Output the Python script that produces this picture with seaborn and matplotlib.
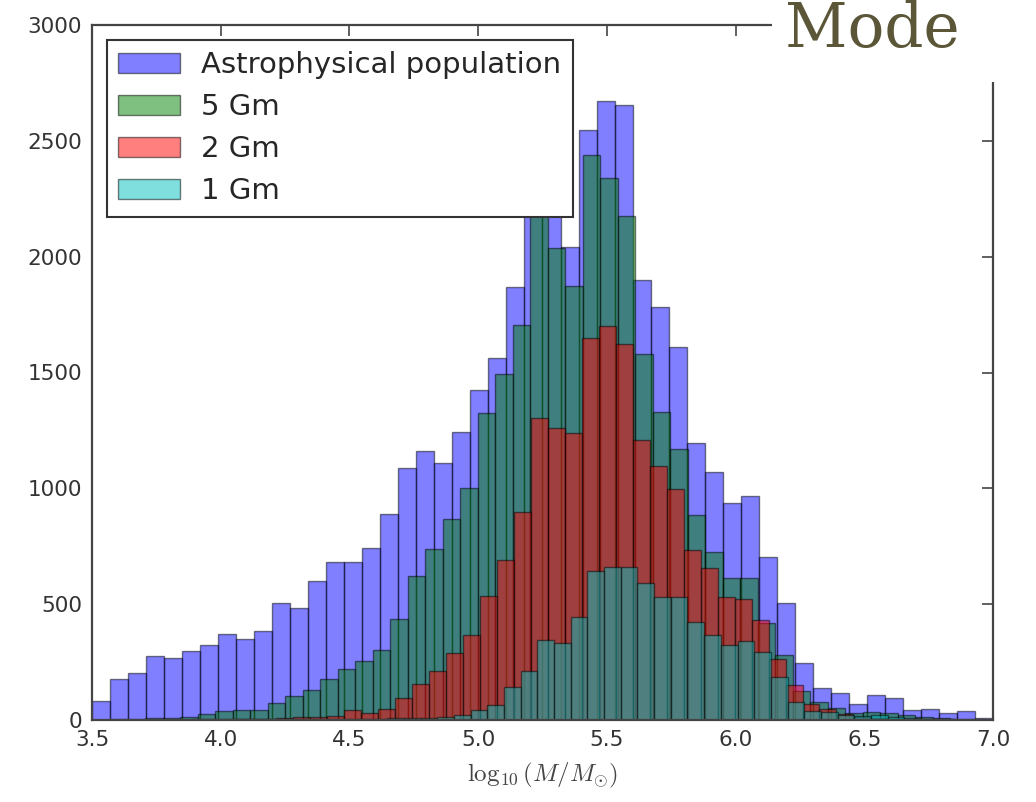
import numpy as np
import pandas as pd
import matplotlib.pyplot as plt
import seaborn as sns
from matplotlib.colors import to_rgba
from matplotlib.patches import Patch, Rectangle

# Counts per bin. Each population has 50 bins
# spread over its own min..max range (plain plt.hist(bins=50) behaviour).
astro_counts = [80, 176, 202, 278, 266, 298, 324, 371, 348, 384,
                506, 485, 601, 683, 683, 741, 889, 1087, 1161, 1111,
                1245, 1425, 1564, 1868, 2350, 2250, 2043, 2547, 2670, 2655,
                1900, 1782, 1612, 1195, 1072, 935, 967, 705, 504, 245,
                137, 118, 69, 108, 94, 43, 46, 32, 39, 8]
gm5_counts = [5, 6, 8, 8, 14, 25, 40, 45, 45, 75,
              105, 130, 176, 220, 255, 302, 436, 623, 737, 866,
              1000, 1324, 1494, 1705, 2200, 2036, 1874, 2439, 2339, 2176,
              1580, 1328, 1169, 885, 727, 612, 612, 420, 281, 127,
              79, 50, 32, 36, 32, 22, 14, 7, 5, 3]
gm2_counts = [1, 1, 2, 2, 3, 3, 4, 5, 6, 7,
              12, 14, 17, 43, 29, 46, 94, 155, 213, 288,
              367, 535, 691, 899, 1302, 1259, 1237, 1648, 1701, 1623,
              1210, 1097, 996, 734, 655, 532, 521, 432, 262, 151,
              70, 46, 26, 12, 8, 5, 5, 4, 3, 2]
gm1_counts = [0, 1, 1, 1, 2, 2, 2, 3, 3, 3,
              4, 4, 5, 5, 6, 6, 7, 8, 10, 13,
              20, 43, 65, 144, 213, 345, 331, 443, 645, 662,
              662, 590, 532, 532, 424, 367, 324, 342, 295, 187,
              79, 40, 36, 22, 16, 20, 14, 7, 5, 3]

# data range (min, max) of each population
astro_range = (3.50, 7.00)
gm5_range = (3.57, 6.97)
gm2_range = (3.62, 6.92)
gm1_range = (3.61, 6.85)

labels = ['Astrophysical population', '5 Gm', '2 Gm', '1 Gm']
colors = ['blue', 'green', 'red', 'c']
n_bins = 50

xticks = [3.5, 4.0, 4.5, 5.0, 5.5, 6.0, 6.5, 7.0]
yticks = [0, 500, 1000, 1500, 2000, 2500, 3000]

sns.set_style('white')
plt.rcParams['font.family'] = ['DejaVu Sans']
plt.rcParams['mathtext.fontset'] = 'cm'

fig = plt.figure(figsize=(10.36, 8.02), dpi=100)
ax = fig.add_axes([92 / 1036, 1 - 720 / 802, 901 / 1036, 695 / 802])

edge_rgba = (0, 0, 0, 0.5)
series = zip([astro_counts, gm5_counts, gm2_counts, gm1_counts],
             [astro_range, gm5_range, gm2_range, gm1_range], colors)
for counts, rng, color in series:
    edges = np.linspace(rng[0], rng[1], n_bins + 1)
    df = pd.DataFrame({'mass': (edges[:-1] + edges[1:]) / 2,
                       'count': np.asarray(counts, dtype=float)})
    sns.histplot(data=df, x='mass', weights='count', bins=list(edges),
                 color=color, alpha=0.5, edgecolor=edge_rgba,
                 linewidth=1.0, ax=ax)

ax.set_xlim(3.5, 7.0)
ax.set_ylim(0, 3000)
ax.set_xticks(xticks)
ax.set_xticklabels([f'{t:.1f}' for t in xticks])
ax.set_yticks(yticks)
ax.set_ylabel('')
ax.set_xlabel(r'$\log_{10}(M/M_{\odot})$', fontsize=18, color='#444444', labelpad=8)

for sp in ax.spines.values():
    sp.set_color('#444444')
    sp.set_linewidth(1.6)
ax.tick_params(direction='in', length=8, width=1.2, color='#444444',
               top=True, right=True, labelsize=15.5, labelcolor='#333333', pad=7)

handles = [Patch(facecolor=to_rgba(c, 0.5), edgecolor=edge_rgba, linewidth=1.0)
           for c in colors]
leg = ax.legend(handles, labels, loc='upper left', fontsize=21, frameon=True,
                framealpha=1.0, fancybox=False, borderaxespad=0.5,
                borderpad=0.4, labelspacing=0.48, handlelength=2.1,
                handleheight=0.7, handletextpad=0.75)
leg.get_frame().set_edgecolor('#333333')
leg.get_frame().set_linewidth(1.5)

# slide title peeking in at the top right corner
fig.add_artist(Rectangle((772 / 1036, 1 - 82 / 802), 264 / 1036, 82 / 802,
                         transform=fig.transFigure, facecolor='white',
                         edgecolor='none', zorder=5))
fig.text(785 / 1036, 1 - 47 / 802, 'Mode', fontsize=44, family='DejaVu Serif',
         color='#5b5638', va='baseline', ha='left', zorder=6)

fig.savefig('out.png', dpi=100)
